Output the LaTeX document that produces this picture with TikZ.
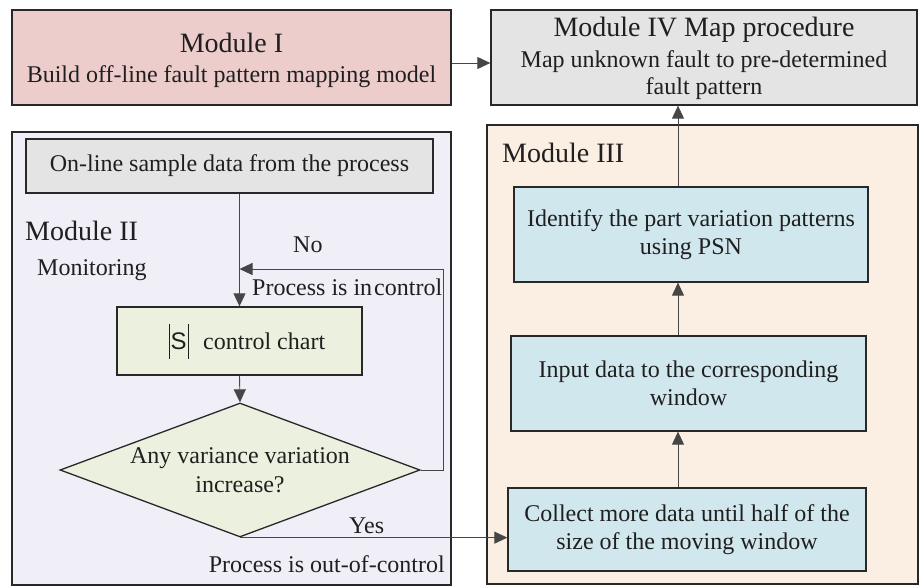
\documentclass[tikz,border=0pt]{standalone}
\usepackage{fontspec}
\setmainfont{Liberation Serif}
\newfontfamily\sansS{Liberation Sans}
\usetikzlibrary{arrows.meta,shapes.geometric}
\definecolor{cpink}{RGB}{237,205,204}
\definecolor{cgray}{RGB}{228,228,228}
\definecolor{clav}{RGB}{240,238,246}
\definecolor{cgreen}{RGB}{236,241,223}
\definecolor{cpeach}{RGB}{251,238,227}
\definecolor{cblue}{RGB}{209,231,238}
\definecolor{cline}{RGB}{40,40,40}
\definecolor{cconn}{RGB}{70,70,70}
\newcommand{\bodyfont}{\fontsize{24}{28.5}\selectfont}
\newcommand{\headfont}{\fontsize{28}{32}\selectfont}
\begin{document}
\begin{tikzpicture}[x=1pt,y=-1pt,
  every node/.style={font=\bodyfont, text=black!88},
  box/.style={draw=cline, line width=1.3pt, rectangle, inner sep=0pt, align=center},
  lbl/.style={inner sep=0pt},
  arr/.style={draw=cconn, line width=0.9pt, -{Triangle[length=13pt,width=12pt]}},
  conn/.style={draw=cconn, line width=0.9pt}]
\useasboundingbox (0,0) rectangle (919,586);
% module containers
\node[box, fill=cpink, minimum width=439pt, minimum height=95pt] (m1) at (231.5,57.5) {};
\node[box, fill=cgray, minimum width=426pt, minimum height=95pt] (m4) at (704,57.5) {};
\node[box, fill=clav, minimum width=439pt, minimum height=453pt] (m2) at (231.5,358.5) {};
\node[box, fill=cpeach, minimum width=431pt, minimum height=459pt] (m3) at (702.5,354.5) {};
% module titles
\node[lbl, anchor=base, font=\headfont] (t1) at (231.5,53) {Module I};
\node[lbl, anchor=base] (t1b) at (231.5,82) {Build off-line fault pattern mapping model};
\node[lbl, anchor=base, font=\headfont] (t4) at (704,37) {Module IV Map procedure};
\node[lbl, anchor=base] (t4b) at (704,67) {Map unknown fault to pre-determined};
\node[lbl, anchor=base] (t4c) at (704,95) {fault pattern};
\node[lbl, anchor=base west, font=\headfont] (t2) at (25,240) {Module II};
\node[lbl, anchor=base west] (mon) at (37,275) {Monitoring};
\node[lbl, anchor=base west, font=\headfont] (t3) at (502,162) {Module III};
% module II content
\node[box, fill=cgray, minimum width=407pt, minimum height=54pt] (online) at (229.5,166) {On-line sample data from the process};
\node[box, fill=cgreen, minimum width=245pt, minimum height=68pt] (sbox) at (239.5,341)
  {\hspace{15pt}\rule[-9pt]{0.7pt}{35pt}\kern1pt{\sansS S}\kern1pt\rule[-9pt]{0.7pt}{35pt}\hspace{15pt}control chart};
\node[draw=cline, line width=1.3pt, fill=cgreen, diamond, inner sep=0pt, minimum width=360pt, minimum height=134pt] (dia) at (240,470) {};
\node[lbl, align=center] (dtxt) at (240,470) {Any variance variation\\increase?};
\node[lbl, anchor=base west] (no) at (293,252) {No};
\node[lbl, anchor=base west] (inc) at (252,295) {Process is in\hspace{2pt}control};
\node[lbl, anchor=base west] (yes) at (349,533) {Yes};
\node[lbl, anchor=base east] (ooc) at (445,572) {Process is out-of-control};
% module III content
\node[box, fill=cblue, minimum width=354pt, minimum height=95pt] (ident) at (691,234.5) {Identify the part variation patterns\\using PSN};
\node[box, fill=cblue, minimum width=355pt, minimum height=95pt] (input) at (688.5,383.5) {Input data to the corresponding\\window};
\node[box, fill=cblue, minimum width=358pt, minimum height=83pt] (collect) at (687,529.5) {Collect more data until half of the\\size of the moving window};
% helper coordinates
\coordinate (ay) at (0,63);
\coordinate (ax) at (678,0);
\coordinate (fbr) at (443,269);
\coordinate (fbl) at (239.5,269);
% connectors
\draw[arr] (m1.east |- ay) -- (m4.west |- ay);
\draw[arr] (online.south -| sbox.north) -- (sbox.north);
\draw[arr] (sbox.south) -- (dia.north);
\draw[conn] (dia.east) -| (fbr);
\draw[arr] (fbr) -- (fbl);
\draw[arr] (dia.south) -- (dia.south -| collect.west);
\draw[arr] (collect.north -| ax) -- (input.south -| ax);
\draw[arr] (input.north -| ax) -- (ident.south -| ax);
\draw[arr] (ident.north -| ax) -- (m4.south -| ax);
\end{tikzpicture}
\end{document}
